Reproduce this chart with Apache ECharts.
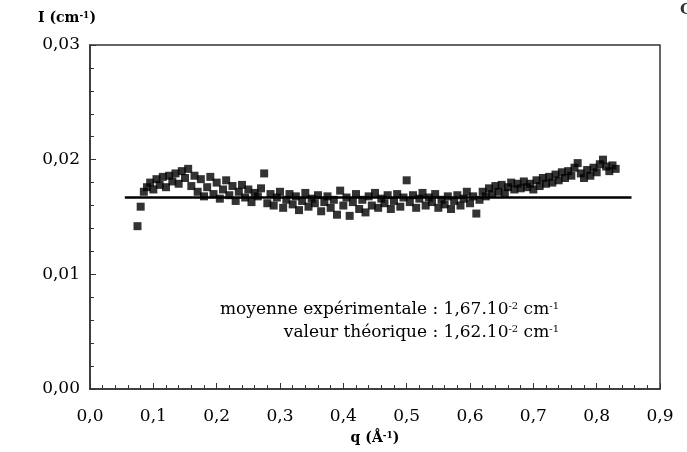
<!DOCTYPE html>
<html>
<head>
<meta charset="utf-8">
<script src="https://cdn.jsdelivr.net/npm/echarts@6/dist/echarts.min.js"></script>
<style>html,body{margin:0;padding:0;background:#fff}#c{width:687px;height:452px}</style>
</head>
<body>
<div id="c"></div>
<script>
var qValues = [0.075,0.080,0.085,0.090,0.095,0.100,0.105,0.110,0.115,0.120,0.125,0.130,0.135,0.140,0.145,0.150,0.155,0.160,0.165,0.170,0.175,0.180,0.185,0.190,0.195,0.200,0.205,0.210,0.215,0.220,0.225,0.230,0.235,0.240,0.245,0.250,0.255,0.260,0.265,0.270,0.275,0.280,0.285,0.290,0.295,0.300,0.305,0.310,0.315,0.320,0.325,0.330,0.335,0.340,0.345,0.350,0.355,0.360,0.365,0.370,0.375,0.380,0.385,0.390,0.395,0.400,0.405,0.410,0.415,0.420,0.425,0.430,0.435,0.440,0.445,0.450,0.455,0.460,0.465,0.470,0.475,0.480,0.485,0.490,0.495,0.500,0.505,0.510,0.515,0.520,0.525,0.530,0.535,0.540,0.545,0.550,0.555,0.560,0.565,0.570,0.575,0.580,0.585,0.590,0.595,0.600,0.605,0.610,0.615,0.620,0.625,0.630,0.635,0.640,0.645,0.650,0.655,0.660,0.665,0.670,0.675,0.680,0.685,0.690,0.695,0.700,0.705,0.710,0.715,0.720,0.725,0.730,0.735,0.740,0.745,0.750,0.755,0.760,0.765,0.770,0.775,0.780,0.785,0.790,0.795,0.800,0.805,0.810,0.815,0.820,0.825,0.830];
var iValues = [0.0142,0.0159,0.0172,0.0176,0.0180,0.0174,0.0183,0.0178,0.0185,0.0176,0.0186,0.0181,0.0188,0.0179,0.0190,0.0184,0.0192,0.0177,0.0186,0.0172,0.0183,0.0168,0.0176,0.0185,0.0170,0.0180,0.0166,0.0174,0.0182,0.0169,0.0177,0.0164,0.0172,0.0178,0.0167,0.0174,0.0163,0.0171,0.0168,0.0175,0.0188,0.0162,0.0170,0.0160,0.0167,0.0172,0.0158,0.0165,0.0170,0.0161,0.0168,0.0156,0.0164,0.0171,0.0159,0.0166,0.0162,0.0169,0.0155,0.0163,0.0168,0.0158,0.0165,0.0152,0.0173,0.0160,0.0167,0.0151,0.0163,0.0170,0.0157,0.0165,0.0154,0.0168,0.0160,0.0171,0.0158,0.0166,0.0162,0.0169,0.0157,0.0164,0.0170,0.0159,0.0167,0.0182,0.0163,0.0169,0.0158,0.0166,0.0171,0.0160,0.0167,0.0163,0.0170,0.0158,0.0165,0.0161,0.0168,0.0157,0.0164,0.0169,0.0160,0.0166,0.0172,0.0162,0.0168,0.0153,0.0165,0.0172,0.0168,0.0175,0.0170,0.0177,0.0172,0.0178,0.0171,0.0176,0.0180,0.0174,0.0179,0.0175,0.0181,0.0176,0.0179,0.0174,0.0182,0.0177,0.0184,0.0179,0.0185,0.0180,0.0187,0.0182,0.0189,0.0184,0.0190,0.0186,0.0193,0.0197,0.0188,0.0184,0.0191,0.0186,0.0193,0.0189,0.0196,0.0200,0.0194,0.0190,0.0195,0.0192];
var meanLineQ = [0.055, 0.855];
var meanValue = 0.0167;
var xTickLabels = ['0,0','0,1','0,2','0,3','0,4','0,5','0,6','0,7','0,8','0,9'];
var yTickLabels = ['0,00','0,01','0,02','0,03'];
var annotationLines = ['moyenne expérimentale : 1,67.10{s|-2} cm{s|-1}', 'valeur théorique : 1,62.10{s|-2} cm{s|-1}'];

var points = qValues.map(function(q, i){ return [q, iValues[i]]; });
var meanLine = meanLineQ.map(function(q){ return [q, meanValue]; });

var font = 'DejaVu Serif';
var chart = echarts.init(document.getElementById('c'));
chart.setOption({
  backgroundColor: '#fff',
  animation: false,
  grid: {left: 90, right: 27, top: 45, bottom: 63, show: true, borderColor: '#333', borderWidth: 1.5, backgroundColor: 'transparent'},
  xAxis: {
    type: 'value', min: 0, max: 0.9, interval: 0.1,
    name: 'q (Å{s|-1})', nameLocation: 'middle', nameGap: 42,
    nameTextStyle: {fontFamily: font, fontSize: 14, fontWeight: 'bold', color: '#000',
      rich: {s: {fontSize: 9, fontWeight: 'bold', verticalAlign: 'top', fontFamily: font, color: '#000'}}},
    axisLine: {lineStyle: {color: '#333', width: 1.5}},
    axisTick: {inside: true, length: 6, lineStyle: {color: '#333', width: 1}},
    minorTick: {show: true, splitNumber: 5, length: 4, lineStyle: {color: '#333', width: 1}},
    splitLine: {show: false},
    axisLabel: {fontFamily: font, fontSize: 17, color: '#000', margin: 19,
      formatter: function(v){ return xTickLabels[Math.round(v * 10)]; }}
  },
  yAxis: {
    type: 'value', min: 0, max: 0.03, interval: 0.01,
    axisLine: {lineStyle: {color: '#333', width: 1.5}},
    axisTick: {inside: true, length: 6, lineStyle: {color: '#333', width: 1}},
    minorTick: {show: true, splitNumber: 5, length: 4, lineStyle: {color: '#333', width: 1}},
    splitLine: {show: false},
    axisLabel: {fontFamily: font, fontSize: 17, color: '#000', margin: 10,
      formatter: function(v){ return yTickLabels[Math.round(v * 100)]; }}
  },
  series: [
    {type: 'line', data: meanLine, symbol: 'none', lineStyle: {color: '#000', width: 2.5}, z: 1},
    {type: 'scatter', data: points, symbol: 'rect', symbolSize: 8, itemStyle: {color: '#000'}, z: 2}
  ],
  graphic: [
    {type: 'text', left: 38, top: 11, style: {text: 'I (cm{s|-1})', fontFamily: font, fontSize: 14, fontWeight: 'bold', fill: '#000',
      rich: {s: {fontSize: 9, fontWeight: 'bold', verticalAlign: 'top', fontFamily: font, fill: '#000'}}}},
    {type: 'text', right: 128, top: 301, style: {text: annotationLines[0], fontFamily: font, fontSize: 17, fill: '#000', align: 'right',
      rich: {s: {fontSize: 10, verticalAlign: 'top', fontFamily: font, fill: '#000'}}}},
    {type: 'text', right: 128, top: 324, style: {text: annotationLines[1], fontFamily: font, fontSize: 17, fill: '#000', align: 'right',
      rich: {s: {fontSize: 10, verticalAlign: 'top', fontFamily: font, fill: '#000'}}}},
    {type: 'text', left: 680, top: 3, style: {text: 'C', fontFamily: font, fontSize: 15, fontWeight: 'bold', fill: '#333'}}
  ]
});
</script>
</body>
</html>
